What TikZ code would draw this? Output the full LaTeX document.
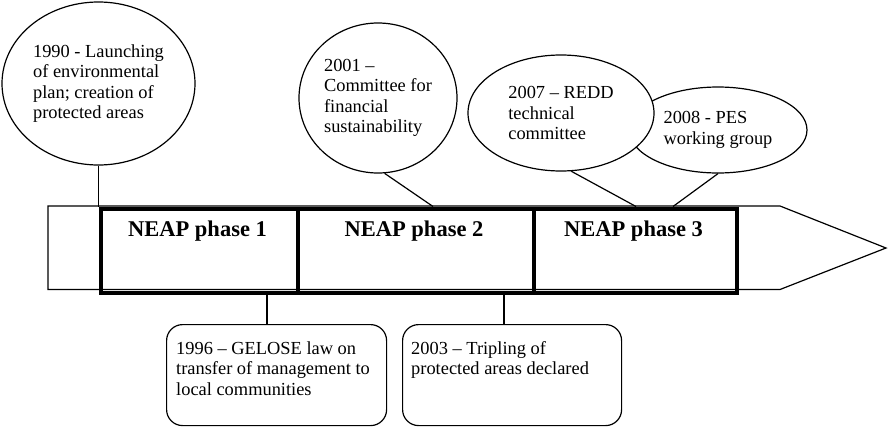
\documentclass[tikz,border=0pt]{standalone}
\usepackage{fontspec}
\setmainfont{Liberation Serif}
\usetikzlibrary{shapes.geometric,calc}
\begin{document}
\begin{tikzpicture}[x=1pt,y=-1pt,
  bodyfont/.style={font=\fontsize{18.4}{20.5}\selectfont},
  thinline/.style={line width=1.2pt},
  phasebox/.style={draw, line width=4pt, inner sep=0pt, anchor=north west, minimum height=84pt},
  phaselabel/.style={anchor=base, inner sep=0pt, font=\fontsize{22.5}{25}\selectfont\bfseries},
  event/.style={ellipse, draw, fill=white, thinline, inner sep=0pt, align=left, bodyfont},
  note/.style={draw, rounded corners=16pt, thinline, inner sep=0pt, anchor=north west, minimum height=101pt},
  notetext/.style={anchor=north west, inner sep=0pt, align=left, bodyfont},
  link/.style={thinline}]
\useasboundingbox (0,0) rectangle (889,426);

% timeline arrow outline
\draw[thinline, line join=miter] (48,206) -- (780,206) -- (886,248) -- (780,289.5) -- (48,289.5) -- cycle;

% phases
\node[phasebox, minimum width=197pt] (p1) at (99,206.5) {};
\node[phasebox, minimum width=236pt] (p2) at (296,206.5) {};
\node[phasebox, minimum width=203pt] (p3) at (532,206.5) {};
\node[phaselabel] (l1) at (197.5,236) {NEAP phase 1};
\node[phaselabel] (l2) at (414,236) {NEAP phase 2};
\node[phaselabel] (l3) at (633.5,236) {NEAP phase 3};

% events above the timeline
\node[event, minimum width=193pt, minimum height=163pt] (e1) at (98.5,83.5)
  {1990 - Launching\\of environmental\\plan; creation of\\protected areas};
\node[event, minimum width=158pt, minimum height=150pt] (e2) at (378,98)
  {2001 –\\Committee for\\financial\\sustainability};
\node[event, minimum width=178pt, minimum height=86pt] (e4) at (718,130)
  {2008 - PES\\working group};
\node[event, minimum width=186pt, minimum height=116pt] (e3) at (561,113)
  {2007 – REDD\\technical\\committee};

\draw[link] (e1.south) -- (e1.south |- p1.north);
\draw[link] (e2.-85) -- ($(p2.north west)+(137,0)$);
\draw[link] (e3.-80) -- ($(p3.north west)+(104,0)$);
\draw[link] (e4.south) -- ($(p3.north west)+(141,0)$);

% events below the timeline
\node[note, minimum width=220pt] (b1) at (166,324) {};
\node[note, minimum width=219pt] (b2) at (402,324) {};
\node[notetext] (t1) at ($(b1.north west)+(10,17.5)$)
  {1996 – GELOSE law on\\transfer of management to\\local communities};
\node[notetext] (t2) at ($(b2.north west)+(9,17)$)
  {2003 – Tripling of\\protected areas declared};

\coordinate (k1) at ($(p1.south west)+(168,0)$);
\coordinate (k2) at ($(p2.south west)+(208,0)$);
\draw[link] (k1) -- (k1 |- b1.north);
\draw[link] (k2) -- (k2 |- b2.north);
\end{tikzpicture}
\end{document}
